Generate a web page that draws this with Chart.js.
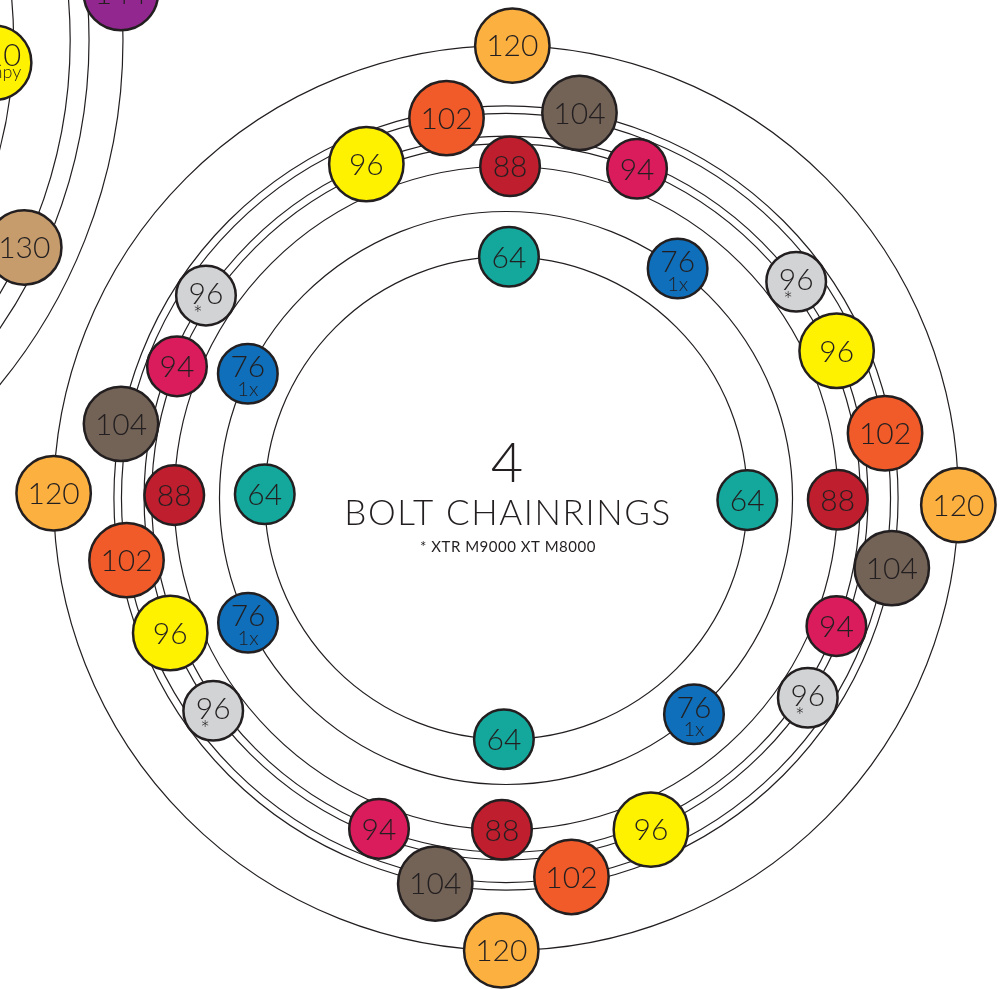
<!DOCTYPE html>
<html>
<head>
<meta charset="utf-8">
<title>4 Bolt Chainrings</title>
<script src="https://cdn.jsdelivr.net/npm/chart.js@4.4.1/dist/chart.umd.min.js"></script>
<style>
  html, body { margin: 0; padding: 0; background: #fff; }
  #wrap { width: 1008px; height: 989px; overflow: hidden; }
</style>
</head>
<body>
<div id="wrap"><canvas id="chart" width="1008" height="989"></canvas></div>
<script>
// Bolt circle diameters (mm) drawn as rings
const mainRings = [64, 76, 88, 94, 96, 102, 104, 120];
const sideRings = [110, 115, 130, 135, 144];

// 4 bolt chainrings: label, BCD, small note and the angle of each bolt
// (degrees, counter-clockwise from 3 o'clock)
const ringLabels = ['120', '104', '102', '96', '96*', '94', '88', '76', '64'];
const ringBcd = [120, 104, 102, 96, 96, 94, 88, 76, 64];
const ringNotes = ['', '', '', '', '*', '', '', '1x', ''];
const boltAngles = [
    [89.2, -0.9, 269.4, 179.4],
    [79.2, -10.3, 259.6, 169.1],
    [98.9, 9.7, -80.2, 189.3],
    [112.7, 24.0, -66.4, 201.9],
    [36.7, -33.5, 216.0, 146.0],
    [68.3, -21.2, 249.0, 158.2],
    [89.3, -0.3, 269.3, 179.5],
    [53.2, -49.0, 205.8, 154.3],
    [89.3, -0.5, 269.5, 179.1]
];

// the edge of the 5 bolt chart that shows on the left
const sideLabels = ['144', '130', '110'];
const sideBcd = [144, 130, 110];
const sideNotes = ['', '', 'Campy'];
const sideAngles = [[5.0], [-25.0], [-3.1]];

const fills = {
    '120': '#fbb040', '104': '#736357', '102': '#f15a29', '96': '#fff200',
    '96*': '#d1d3d4', '94': '#da1c5c', '88': '#be1e2d', '76': '#0f6fba',
    '64': '#14a89d', '144': '#92278f', '130': '#c69c6d', '110': '#fff200'
};
const bigOnes = ['120', '104', '102', '96', '144', '130', '110'];
const ink = '#231f20';

// layout: pixels per mm and where the centres sit
const W = 1008, H = 989;
const PX = 7.54;
const centrePx = [506, 498];
const mainCentre = [0, 0];
const sideCentre = [-122.8, 60.7];

function boltPoints(centre, bcd, angles, r) {
    return angles.map(a => ({
        x: centre[0] + bcd / 2 * Math.cos(a * Math.PI / 180),
        y: centre[1] + bcd / 2 * Math.sin(a * Math.PI / 180),
        r: r
    }));
}

function makeDataset(label, bcd, note, angles, centre) {
    const big = bigOnes.includes(label);
    return {
        label: label,
        note: note,
        data: boltPoints(centre, bcd, angles, big ? 37.2 : 29.8),
        backgroundColor: fills[label],
        borderColor: ink,
        borderWidth: 2.5,
        hoverBorderWidth: 2.5,
        clip: false
    };
}

const datasets = [];
sideLabels.forEach((l, i) => datasets.push(makeDataset(l, sideBcd[i], sideNotes[i], sideAngles[i], sideCentre)));
ringLabels.forEach((l, i) => datasets.push(makeDataset(l, ringBcd[i], ringNotes[i], boltAngles[i], mainCentre)));

const ringsPlugin = {
    id: 'rings',
    beforeDatasetsDraw(chart) {
        const { ctx, scales: { x, y } } = chart;
        ctx.save();
        ctx.strokeStyle = ink;
        ctx.lineWidth = 1.2;
        [[mainCentre, mainRings], [sideCentre, sideRings]].forEach(([c, list]) => {
            const cx = x.getPixelForValue(c[0]);
            const cy = y.getPixelForValue(c[1]);
            list.forEach(d => {
                const r = x.getPixelForValue(c[0] + d / 2) - cx;
                ctx.beginPath();
                ctx.arc(cx, cy, r, 0, Math.PI * 2);
                ctx.stroke();
            });
        });
        ctx.restore();
    }
};

const labelsPlugin = {
    id: 'bubbleLabels',
    afterDatasetsDraw(chart) {
        const ctx = chart.ctx;
        ctx.save();
        ctx.fillStyle = ink;
        ctx.textAlign = 'center';
        ctx.textBaseline = 'alphabetic';
        chart.data.datasets.forEach((ds, i) => {
            const meta = chart.getDatasetMeta(i);
            const text = ds.label.replace('*', '');
            meta.data.forEach(el => {
                const px = el.x, py = el.y;
                if (ds.note === '1x') {
                    ctx.font = '300 30px Lato';
                    ctx.fillText(text, px, py + 3.3);
                    ctx.font = '300 20px Lato';
                    ctx.fillText('1x', px, py + 22);
                } else if (ds.note === 'Campy') {
                    ctx.font = '300 31px Lato';
                    ctx.fillText(text, px, py + 3.2);
                    ctx.font = '300 18px Lato';
                    ctx.fillText('Campy', px, py + 15);
                } else if (ds.note === '*') {
                    ctx.font = '300 30px Lato';
                    ctx.fillText(text, px, py + 8.3);
                    ctx.font = '300 23px Lato';
                    ctx.fillText('*', px - 8, py + 27);
                } else {
                    ctx.font = '300 30px Lato';
                    ctx.fillText(text, px, py + 10.8);
                }
            });
        });
        ctx.restore();
    }
};

const titlePlugin = {
    id: 'centreTitle',
    afterDraw(chart) {
        const { ctx, scales: { x, y } } = chart;
        const cx = x.getPixelForValue(mainCentre[0]) + 1;
        const cy = y.getPixelForValue(mainCentre[1]);
        ctx.save();
        ctx.fillStyle = ink;
        ctx.textAlign = 'center';
        ctx.textBaseline = 'alphabetic';
        ctx.font = '300 56px Lato';
        ctx.fillText('4', cx, cy - 16);
        ctx.font = '300 35px Lato';
        ctx.letterSpacing = '1.6px';
        ctx.fillText('BOLT CHAINRINGS', cx + 1, cy + 27);
        ctx.font = '400 15px Lato';
        ctx.letterSpacing = '0.5px';
        ctx.fillText('* XTR M9000 XT M8000', cx + 1, cy + 54);
        ctx.restore();
    }
};

new Chart(document.getElementById('chart'), {
    type: 'bubble',
    data: { datasets: datasets },
    options: {
        responsive: false,
        devicePixelRatio: 1,
        animation: false,
        layout: { padding: 0, autoPadding: false },
        plugins: {
            legend: { display: false },
            tooltip: { enabled: false }
        },
        events: [],
        scales: {
            x: {
                type: 'linear',
                display: false,
                min: -centrePx[0] / PX,
                max: (W - centrePx[0]) / PX
            },
            y: {
                type: 'linear',
                display: false,
                min: -(H - centrePx[1]) / PX,
                max: centrePx[1] / PX
            }
        }
    },
    plugins: [ringsPlugin, labelsPlugin, titlePlugin]
});
</script>
</body>
</html>
